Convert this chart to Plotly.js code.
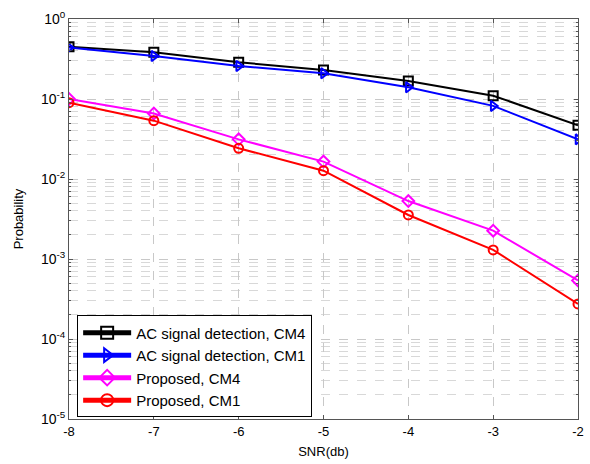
<!DOCTYPE html>
<html><head><meta charset="utf-8">
<script src="https://cdn.plot.ly/plotly-3.0.1.min.js"></script>
<style>body{margin:0;background:#fff}#c{width:590px;height:464px}</style>
</head><body><div id="c"></div>
<script>
var snr = [-8, -7, -6, -5, -4, -3, -2];
var acCM4 = [0.45, 0.383, 0.288, 0.23, 0.168, 0.11, 0.047];
var acCM1 = [0.44, 0.345, 0.258, 0.21, 0.14, 0.082, 0.0313];
var propCM4 = [0.1, 0.066, 0.0313, 0.0165, 0.0053, 0.00226, 0.00054];
var propCM1 = [0.09, 0.0536, 0.0242, 0.0127, 0.00355, 0.0013, 0.000274];
var names = ['AC signal detection, CM4', 'AC signal detection, CM1', 'Proposed, CM4', 'Proposed, CM1'];
var yTickVals = [1, 0.1, 0.01, 0.001, 0.0001, 0.00001];
var yTickText = ['10<sup>0</sup>', '10<sup>-1</sup>', '10<sup>-2</sup>', '10<sup>-3</sup>', '10<sup>-4</sup>', '10<sup>-5</sup>'];
var xTickVals = [-8, -7, -6, -5, -4, -3, -2];
var xTickText = ['-8', '-7', '-6', '-5', '-4', '-3', '-2'];

var minorVals = [];
for (var k = -5; k < 0; k++) { for (var m = 2; m <= 9; m++) minorVals.push(m * Math.pow(10, k)); }

function tr(y, name, color, symbol) {
  return {x: snr, y: y, name: name, type: 'scatter', mode: 'lines+markers',
    line: {color: color, width: 2},
    marker: {symbol: symbol, size: 9, color: color, line: {color: color, width: 2}}};
}
var data = [
  tr(acCM4, names[0], '#000000', 'square-open'),
  tr(acCM1, names[1], '#0000ff', 'triangle-right-open'),
  tr(propCM4, names[2], '#ff00ff', 'diamond-open'),
  tr(propCM1, names[3], '#ff0000', 'circle-open')
];
var fam = 'Liberation Sans, Arial, sans-serif';
var layout = {
  width: 590, height: 464,
  margin: {l: 69, r: 12, t: 19, b: 45},
  paper_bgcolor: '#fff', plot_bgcolor: '#fff',
  font: {family: fam, size: 13, color: '#000'},
  showlegend: true,
  legend: {x: 0.016, y: 0.259, xanchor: 'left', yanchor: 'top', bgcolor: '#fff',
    bordercolor: '#000', borderwidth: 1, font: {size: 15, family: fam}, tracegroupgap: 0,
    itemwidth: 48, itemsizing: 'constant'},
  xaxis: {range: [-8, -2], tickvals: xTickVals, ticktext: xTickText, ticks: 'inside', ticklen: 4, tickcolor: '#555',
    showline: true, linecolor: '#555', linewidth: 1, mirror: 'ticks',
    showgrid: true, gridcolor: '#c8c8c8', griddash: 'dash', zeroline: false,
    tickfont: {size: 13}, title: {text: 'SNR(db)', font: {size: 13}, standoff: 9}},
  yaxis: {type: 'log', range: [-5, 0], tickvals: yTickVals, ticktext: yTickText,
    ticks: 'inside', ticklen: 4, tickcolor: '#555',
    showline: true, linecolor: '#555', linewidth: 1, mirror: 'ticks',
    showgrid: true, gridcolor: '#c8c8c8', griddash: 'dash', zeroline: false,
    minor: {tickvals: minorVals, ticks: 'inside', ticklen: 2, tickcolor: '#555', showgrid: true, gridcolor: '#d8d8d8', griddash: 'dash'},
    tickfont: {size: 14}, title: {text: 'Probability', font: {size: 13}, standoff: 14}}
};
Plotly.newPlot('c', data, layout, {staticPlot: true, displayModeBar: false});
</script></body></html>
